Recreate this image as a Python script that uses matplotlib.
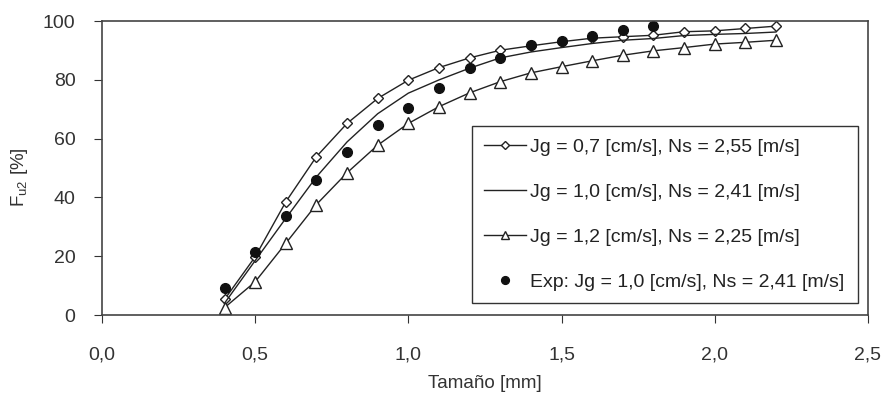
import matplotlib.pyplot as plt
import numpy as np

plt.rcParams['font.family'] = ['Liberation Sans', 'DejaVu Sans']

# Tamaño [mm]
tamano = [0.4, 0.5, 0.6, 0.7, 0.8, 0.9, 1.0, 1.1, 1.2, 1.3,
          1.4, 1.5, 1.6, 1.7, 1.8, 1.9, 2.0, 2.1, 2.2]
tamano_exp = [0.4, 0.5, 0.6, 0.7, 0.8, 0.9, 1.0, 1.1, 1.2, 1.3,
              1.4, 1.5, 1.6, 1.7, 1.8]

# Fu2 [%] para cada condición
fu_07 = [5.3, 19.8, 38.5, 53.9, 65.2, 73.7, 79.9, 84.2, 87.5, 90.1,
         91.6, 93.0, 94.2, 94.7, 95.2, 96.4, 96.7, 97.5, 98.3]
fu_10 = [4.0, 18.5, 32.9, 47.0, 58.9, 68.5, 75.5, 80.0, 84.0, 87.5,
         89.5, 91.0, 92.4, 93.5, 94.1, 95.1, 95.5, 95.8, 96.3]
fu_12 = [2.5, 11.3, 24.4, 37.6, 48.4, 57.8, 65.2, 70.9, 75.6, 79.4,
         82.4, 84.5, 86.5, 88.4, 89.9, 91.0, 92.2, 92.8, 93.5]
fu_exp = [9.1, 21.5, 33.7, 46.1, 55.5, 64.6, 70.3, 77.1, 83.9, 87.3,
          91.8, 93.2, 94.9, 96.9, 98.3]

etiquetas = ["Jg = 0,7 [cm/s], Ns = 2,55 [m/s]",
             "Jg = 1,0 [cm/s], Ns = 2,41 [m/s]",
             "Jg = 1,2 [cm/s], Ns = 2,25 [m/s]",
             "Exp: Jg = 1,0 [cm/s], Ns = 2,41 [m/s]"]

color = '#222222'

fig = plt.figure(figsize=(8.82, 3.99), dpi=100)
ax = fig.add_axes([0.1156, 0.2105, 0.8684, 0.7365])

ax.plot(tamano, fu_07, color=color, lw=1.0, marker='D', ms=5,
        mfc='white', mec=color, mew=1.0, label=etiquetas[0])
ax.plot(tamano, fu_10, color=color, lw=1.0, label=etiquetas[1])
ax.plot(tamano, fu_12, color=color, lw=1.0, marker='^', ms=8,
        mfc='white', mec=color, mew=1.0, label=etiquetas[2])
ax.plot(tamano_exp, fu_exp, ls='none', marker='o', ms=7,
        color='#111111', label=etiquetas[3])

ax.set_xlim(0, 2.5)
ax.set_ylim(0, 100)
xt = np.arange(0, 2.51, 0.5)
ax.set_xticks(xt)
ax.set_xticklabels([f"{v:.1f}".replace('.', ',') for v in xt])
ax.set_yticks(np.arange(0, 101, 20))

ax.tick_params(axis='x', direction='out', length=6, pad=17,
               labelsize=14, colors='#333333')
ax.tick_params(axis='y', direction='out', length=6, pad=13,
               labelsize=14, colors='#333333')
for s in ax.spines.values():
    s.set_color('#444444')
    s.set_linewidth(1.2)

ax.set_xlabel("Tamaño [mm]", fontsize=13.5, color='#333333', labelpad=8)
ax.set_ylabel(r"F$_\mathregular{u2}$ [%]", fontsize=13.5, color='#333333',
              labelpad=9)
ax.yaxis.label.set_y(0.47)

leg = ax.legend(loc='lower left', bbox_to_anchor=(0.483, 0.041, 0.504, 0.598),
                mode='expand', fontsize=14, frameon=True, fancybox=False,
                framealpha=1, edgecolor='#333333', labelspacing=1.42,
                borderpad=0.6, handlelength=2.2, handletextpad=0.2,
                borderaxespad=0, markerscale=0.8)
leg.get_frame().set_linewidth(1.0)
for t in leg.get_texts():
    t.set_color('#222222')

fig.savefig("out.png", dpi=100)
